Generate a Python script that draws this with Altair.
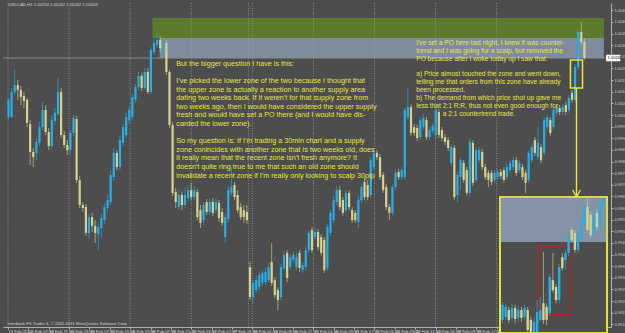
import json
import altair as alt
import pandas as pd

# ---------------- data: main chart candles, pips relative to 1.0000 ----------------
open_pips = [-0.9, -0.9, 9.9, 12.9, 10.8, 8.2, 6.5, -3.9, -15.9, -16.3, -12.0, -5.2, 2.2, -7.3, -13.3, -2.6, 0.4, 9.9, -8.6, -12.9,
             -15.1, -7.7, -1.7, -28.0, -38.7, -39.6, -50.7, -43.9, -47.7, -51.2, -48.6, -45.2, -40.0, -37.4, -26.7, -16.3, -22.4, -12.0, -8.6, -2.2,
             -0.9, 6.5, 12.0, 16.8, 11.6, 18.5, 9.9, 27.1, 30.1, 32.3, 28.0, 31.0, 18.5, -4.3, -33.1, -39.6, -34.4, -38.7, -35.7, -32.3,
             -35.3, -33.1, -40.9, -45.2, -37.4, -41.7, -37.4, -40.9, -37.8, -41.7, -52.5, -44.7, -33.5, -30.1, -34.4, -39.6, -40.9, -41.7,
             -65.4, -78.3, -75.3, -74.0, -72.2, -71.8, -71.0, -63.2, -71.0, -75.3, -78.3, -65.8, -59.3, -65.4, -62.4, -65.4, -59.3, -66.7,
             -65.4, -58.1, -49.5, -52.5, -50.3, -52.5, -53.8, -65.8, -50.7, -45.2, -37.4, -32.3, -36.6, -40.9, -33.5, -40.9, -42.1, -46.0,
             -36.6, -28.8, -30.1, -34.4, -22.4, -16.3, -18.1, -25.8, -31.0, -39.6, -42.1, -31.0, -24.5, -26.7, -26.7, -0.9, 3.4, -5.2,
             -5.6, -9.5, -5.2, -2.2, -9.5, -6.9, -8.6, 1.3, -6.5, -9.5, -10.8, -20.6, -14.2, -34.4, -26.7, -20.6, -23.7, -33.5, -12.0,
             -27.9, -19.4, -15.9, -22.4, -24.9, -24.9, -27.9, -26.7, -24.5, -23.7, -26.7, -23.7, -22.4, -19.4, -23.7, -22.4, -24.9, -27.9,
             -19.4, -10.8, -18.1, -13.8, -16.3, -5.2, -2.2, -5.2, 0.9, 3.0, 1.3, 4.3, 2.2, 9.5, 6.5, 20.6, 35.7, 31.4]
close_pips = [6.5, 9.9, 12.9, 10.8, 7.7, 6.0, -3.4, -15.9, -18.1, -11.6, -5.2, 2.2, -7.3, -13.3, -2.2, 0.9, 9.9, -8.6, -12.9, -15.1,
              -7.7, -1.3, -28.0, -38.7, -40.0, -50.7, -43.9, -47.7, -50.7, -48.2, -44.3, -39.6, -36.6, -25.8, -16.3, -22.4, -10.8, -5.2, -0.9, 2.2,
              7.7, 12.0, 16.8, 11.6, 18.5, 9.9, 28.0, 31.0, 32.3, 28.8, 31.0, 18.5, -4.3, -33.5, -37.4, -34.4, -38.7, -34.4, -32.3, -35.3,
              -32.3, -43.9, -46.4, -38.7, -41.7, -37.4, -42.1, -37.4, -44.3, -46.4, -43.9, -32.3, -31.0, -35.3, -40.9, -43.9, -43.9, -45.2,
              -78.3, -72.2, -71.0, -68.8, -67.9, -67.5, -65.4, -72.2, -77.4, -79.6, -65.4, -60.2, -70.1, -61.1, -60.2, -61.1, -65.8, -64.5,
              -58.1, -50.7, -58.1, -50.3, -56.8, -59.3, -66.7, -48.2, -42.1, -36.6, -32.3, -39.6, -42.1, -33.5, -39.6, -45.2, -45.2, -36.6,
              -31.0, -35.3, -35.3, -19.4, -16.3, -18.1, -26.7, -32.3, -39.6, -42.1, -31.0, -24.9, -26.7, -23.7, 2.2, 3.4, -7.7, -7.7,
              -9.9, -2.2, -1.3, -9.5, -6.5, -4.7, 2.2, -8.6, -9.9, -11.6, -14.2, -13.8, -35.3, -25.8, -19.4, -27.9, -33.5, -11.6, -29.2,
              -15.1, -15.1, -22.4, -26.7, -27.9, -28.8, -24.9, -24.5, -26.2, -27.9, -22.4, -20.6, -19.4, -24.9, -20.6, -26.7, -29.2, -16.3,
              -13.8, -16.3, -12.0, -19.4, -2.2, -0.9, -7.7, 2.2, 3.4, 1.3, 3.4, 1.3, 7.3, 6.5, 20.6, 35.7, 31.4, 24.5]
high_pips = [7.3, 11.6, 19.4, 15.1, 12.5, 9.9, 7.3, -2.2, -14.2, -9.9, -3.0, 5.6, 4.3, -5.6, 0.0, 3.0, 15.9, 11.6, -6.9, -10.8,
             -6.5, 0.0, -0.4, -26.2, -37.4, -38.3, -42.6, -42.1, -45.2, -46.0, -42.6, -37.8, -34.4, -23.7, -14.2, -15.1, -9.0, -3.9, 1.3, 3.9,
             9.0, 13.3, 18.5, 18.1, 20.2, 20.2, 29.2, 33.1, 35.3, 34.0, 32.3, 32.3, 19.4, -3.0, -31.4, -32.3, -33.1, -31.4, -30.1, -29.2,
             -30.5, -31.8, -38.7, -37.4, -36.1, -36.1, -35.7, -35.7, -36.6, -40.0, -42.6, -30.5, -22.4, -28.8, -32.3, -37.8, -38.7, -38.7,
             -63.2, -71.0, -69.2, -67.5, -66.7, -65.8, -63.6, -55.0, -69.7, -74.0, -64.1, -58.5, -58.1, -59.8, -58.9, -59.3, -58.1, -63.2,
             -56.8, -49.5, -48.2, -48.6, -49.0, -51.2, -52.5, -46.9, -40.9, -34.8, -30.5, -30.5, -35.3, -32.3, -32.3, -39.6, -40.9, -34.8,
             -29.7, -27.1, -28.0, -18.1, -15.1, -15.1, -16.8, -24.5, -29.7, -38.3, -29.7, -23.7, -23.2, -22.4, 3.4, 12.0, 4.7, -3.9,
             -4.3, -0.9, 0.4, -0.9, -5.2, -3.4, 3.9, 2.6, -5.2, -8.2, -9.5, -12.5, -12.9, -24.5, -18.1, -19.4, -22.4, -9.9, -10.8,
             -13.8, -13.8, -14.6, -20.9, -23.7, -23.7, -23.7, -23.2, -23.2, -22.4, -21.1, -19.4, -18.1, -18.1, -19.4, -21.1, -23.7, -15.1,
             -12.5, -9.5, -5.2, -12.5, -0.9, 0.4, -0.9, 3.4, 4.7, 4.3, 4.7, 5.6, 8.6, 10.8, 21.9, 36.6, 40.0, 33.1]
low_pips = [-2.2, -1.3, 8.6, 6.5, 4.3, 3.0, -5.2, -21.5, -22.4, -19.4, -13.3, -6.5, -8.6, -15.1, -14.6, -4.3, -0.4, -9.9, -14.2, -17.2,
            -16.8, -9.0, -29.2, -40.0, -41.7, -52.0, -52.9, -50.3, -55.0, -58.1, -52.9, -46.9, -41.7, -38.7, -28.0, -23.7, -23.7, -13.3, -9.9, -3.4,
            -2.2, 5.2, 10.8, 10.3, 10.8, 9.0, 9.0, 25.8, 28.8, 27.1, 24.5, 17.2, -5.6, -34.8, -40.0, -40.9, -40.9, -40.0, -37.4, -36.6,
            -36.6, -45.2, -48.6, -47.3, -43.0, -43.0, -43.4, -42.1, -46.0, -47.7, -55.0, -46.4, -34.8, -36.6, -42.1, -45.2, -46.4, -46.9,
            -79.6, -80.8, -76.5, -75.3, -73.5, -73.1, -72.2, -73.5, -78.7, -83.9, -79.6, -66.7, -71.8, -66.7, -63.6, -66.7, -67.5, -67.9,
            -66.7, -59.3, -59.3, -53.8, -58.1, -60.6, -67.9, -67.1, -52.0, -46.4, -38.7, -40.9, -43.4, -42.1, -40.9, -46.4, -46.4, -48.6,
            -37.8, -36.6, -36.6, -35.7, -23.7, -19.4, -28.0, -33.5, -40.9, -45.2, -43.4, -32.3, -28.0, -28.0, -28.0, -2.2, -9.0, -9.0,
            -11.2, -10.8, -6.5, -10.8, -10.8, -8.2, -9.9, -9.9, -11.2, -12.9, -15.5, -21.9, -36.6, -37.8, -32.3, -29.2, -34.8, -34.8, -30.5,
            -29.2, -20.6, -23.7, -27.9, -31.0, -30.1, -29.2, -27.9, -27.5, -29.2, -27.9, -24.9, -23.7, -26.2, -24.9, -27.9, -33.5, -29.2,
            -20.6, -17.6, -19.4, -20.6, -17.6, -6.5, -9.0, -6.5, -0.4, 0.0, 0.0, 0.0, 0.9, 5.2, 5.2, 19.4, 30.1, 23.7]

# ---------------- data: inset (zoomed view of the last rally), pips relative to 1.0000 ----------------
in_open = [9.6, 10.2, 11.5, 10.0, 11.9, 10.0, 11.5, 10.2, 11.5, 9.6, 7.1, 7.1, 9.6, 12.8, 12.1, 10.9, 17.2,
           15.9, 13.4, 21.6, 21.1, 22.4, 26.8, 26.2, 23.0, 25.5, 28.1, 31.2, 29.7, 26.2, 30.0, 27.4, 31.6]
in_close = [12.5, 12.1, 9.6, 11.9, 9.8, 11.5, 10.0, 11.9, 7.7, 7.1, 9.2, 11.1, 11.5, 9.6, 9.6, 17.8, 15.3,
            13.4, 19.7, 19.5, 22.4, 25.5, 24.9, 23.0, 25.8, 28.7, 31.2, 26.8, 25.8, 29.7, 27.4, 31.6, 32.9]
in_high = [13.0, 12.7, 12.1, 12.7, 12.5, 12.3, 12.1, 12.5, 12.1, 10.2, 10.0, 13.4, 14.0, 22.6, 12.7, 18.4, 22.4,
           16.5, 20.3, 22.4, 23.0, 26.0, 27.4, 26.8, 26.4, 29.3, 31.8, 32.9, 30.2, 30.2, 30.6, 32.1, 33.0]
in_low = [9.0, 9.6, 9.0, 9.4, 9.0, 9.4, 9.2, 9.6, 6.9, 6.5, 6.5, 6.5, 9.2, 8.8, 8.6, 10.4, 14.8,
          12.8, 12.8, 19.0, 19.2, 21.8, 24.3, 22.4, 22.4, 24.9, 27.6, 26.2, 25.3, 25.6, 26.8, 26.8, 31.0]

# zones and annotation geometry (bar index / pips)
upper_zone = (46.5, 192.3, 33.1, 41.7)     # green supply zone (two weeks old)
lower_zone = (48.8, 192.3, 24.5, 33.1)     # recent supply zone
bid_pips = 24.5
po_box = (181.5, 185.4, 11.6, 23.65)
weekend_sep = 77.5

time_labels = ["13 Feb 2012", "14 Feb 07:00", "14 Feb 15:00", "14 Feb 23:00", "15 Feb 07:00", "15 Feb 15:00",
               "15 Feb 23:00", "16 Feb 07:00", "16 Feb 15:00", "16 Feb 23:00", "17 Feb 07:00", "17 Feb 15:00",
               "20 Feb 01:00", "20 Feb 09:00", "20 Feb 17:00", "21 Feb 01:00", "21 Feb 09:00", "21 Feb 17:00",
               "22 Feb 01:00", "22 Feb 09:00", "22 Feb 17:00", "23 Feb 01:00", "23 Feb 09:00", "23 Feb 17:00",
               "24 Feb 01:00", "24 Feb 09:00", "24 Feb 17:00"]

# annotation paragraphs: (bar index, pips of first baseline, text)
para1 = ["But the bigger question I have is this:"]
para2 = ["I've picked the lower zone of the two because I thought that",
         "the upper zone is actually a reaction to another supply area",
         "dating two weeks back. If it weren't for that supply zone from",
         "two weeks ago, then I would have considered the upper supply",
         "fresh and would have set a PO there (and I would have dis-",
         "carded the lower zone)."]
para3 = ["So my question is: If I'm trading a 30min chart and a supply",
         "zone conincides with another zone that is two weeks old, does",
         "it really mean that the recent zone isn't fresh anymore? It",
         "doesn't quite ring true to me that such an old zone should",
         "invalidate a recent zone if I'm really only looking to scalp 30pip"]
para4 = ["I've set a PO here last night, I knew it was counter-",
         "trend and I was going for a scalp, but removed the",
         "PO because after I woke today up I saw that:"]
para5 = ["a) Price almost touched the zone and went down,",
         "telling me that orders from this zone have already",
         "been processed.",
         "b) The demand from which price shot up gave me",
         "less that 2:1 R:R, thus not even good enough for"]
para6 = ["a 2:1 countertrend trade."]

header_text = "USDCAD,H1  1.00253 1.00262 1.00242 1.00245"
copyright_text = "Interbank FX Trader 4, \u00a9 2001-2011 MetaQuotes Software Corp."

# ---------------- helpers ----------------
def pr(p):
    return round(1.0 + p / 10000.0, 6)

BG = "#4d4d4d"
BLUE = "#27aee6"
KHAKI = "#d6d28f"
YEL = "#e8e640"
FONT = "Liberation Sans"

n = len(open_pips)
cd = pd.DataFrame({
    "i": list(range(n)),
    "o": [pr(v) for v in open_pips],
    "c": [pr(v) for v in close_pips],
    "h": [pr(v) for v in high_pips],
    "l": [pr(v) for v in low_pips],
})
cd["top"] = cd[["o", "c"]].max(axis=1)
cd["bot"] = cd[["o", "c"]].min(axis=1)
cd["dir"] = ["up" if c >= o else "down" for o, c in zip(cd["o"], cd["c"])]

m = len(in_open)
idf = pd.DataFrame({
    "u": list(range(m)),
    "o": [pr(v) for v in in_open],
    "c": [pr(v) for v in in_close],
    "h": [pr(v) for v in in_high],
    "l": [pr(v) for v in in_low],
})
idf["top"] = idf[["o", "c"]].max(axis=1)
idf["bot"] = idf[["o", "c"]].min(axis=1)
idf["dir"] = ["up" if c >= o else "down" for o, c in zip(idf["o"], idf["c"])]

COLOR = alt.Color("dir:N", scale=alt.Scale(domain=["up", "down"], range=[BLUE, KHAKI]), legend=None)

tick_vals = [round(6.576 * k - 0.16, 3) for k in range(len(time_labels))]
grid_vals = [tick_vals[k] for k in range(0, len(tick_vals), 3)] + [weekend_sep]
price_ticks = [round(0.9910 + 0.0005 * k, 4) for k in range(28)]

label_expr = f"{json.dumps(time_labels)}[indexof({json.dumps(tick_vals)}, datum.value)]"

XS = alt.Scale(domain=[-0.16, 192.98], nice=False, zero=False)
YS = alt.Scale(domain=[0.990884, 1.004816], nice=False, zero=False)
XAX = alt.Axis(values=tick_vals, labelExpr=label_expr, labelAlign="left", labelFontSize=4.2, labelColor="#d0d0d0",
               labelFont=FONT, labelPadding=0.5, tickSize=2, tickColor="#b0b0b0", domainColor="#b0b0b0",
               grid=False, title=None, labelOverlap=False, labelFlush=False, labelBound=False, zindex=0)
YAX = alt.Axis(orient="right", values=price_ticks, format=".5f", labelFontSize=4.0, labelColor="#d0d0d0",
               labelFont=FONT, labelPadding=1, tickSize=2, tickColor="#b0b0b0", domainColor="#b0b0b0",
               grid=False, title=None, labelOverlap=False, labelFlush=False, labelBound=False, zindex=0)


def X(f):
    return alt.X(f, type="quantitative", scale=XS, axis=XAX)


def Y(f):
    return alt.Y(f, type="quantitative", scale=YS, axis=YAX)


# zones
zones = pd.DataFrame({
    "x": [upper_zone[0], lower_zone[0]], "x2": [upper_zone[1], lower_zone[1]],
    "y": [pr(upper_zone[2]), pr(lower_zone[2])], "y2": [pr(upper_zone[3]), pr(lower_zone[3])],
    "col": ["#5b7a2c", "#7e8c9e"],
})
zone_layer = alt.Chart(zones).mark_rect().encode(
    x=X("x"), x2="x2", y=Y("y"), y2="y2", color=alt.Color("col:N", scale=None))

grid_layer = alt.Chart(pd.DataFrame({"g": grid_vals})).mark_rule(
    color="#9a9a9a", strokeDash=[1, 1.5], strokeWidth=0.8).encode(x=X("g"))

bid_layer = alt.Chart(pd.DataFrame({"b": [pr(bid_pips)]})).mark_rule(
    color="#8e8e8e", strokeWidth=0.9).encode(y=Y("b"))

wick_layer = alt.Chart(cd).mark_rule(strokeWidth=0.9, opacity=0.7).encode(
    x=X("i"), y=Y("l"), y2="h", color=COLOR)
body_layer = alt.Chart(cd).mark_bar(size=2.2).encode(
    x=X("i"), y=Y("bot"), y2="top", color=COLOR)

pobox = pd.DataFrame({"x": [po_box[0]], "x2": [po_box[1]], "y": [pr(po_box[2])], "y2": [pr(po_box[3])]})
pobox_layer = alt.Chart(pobox).mark_rect(fillOpacity=0, stroke=YEL, strokeWidth=1.5).encode(
    x=X("x"), x2="x2", y=Y("y"), y2="y2")

arrow = pd.DataFrame({
    "x": [183.45, 182.2, 184.7], "x2": [183.45, 183.45, 183.45],
    "y": [pr(11.6), pr(-32.25), pr(-32.25)], "y2": [pr(-35.26), pr(-35.26), pr(-35.26)],
})
arrow_layer = alt.Chart(arrow).mark_rule(color=YEL, strokeWidth=1.4).encode(
    x=X("x"), x2="x2", y=Y("y"), y2="y2")

big_paras = pd.DataFrame({
    "x": [54.2, 54.2, 54.2],
    "y": [pr(21.2), pr(13.76), pr(-12.13)],
    "t": ["\n".join(para1), "\n".join(para2), "\n".join(para3)],
})
t1 = alt.Chart(big_paras).mark_text(
    align="left", baseline="alphabetic", font=FONT, fontSize=7.2, lineHeight=8.6, lineBreak="\n", color=YEL
).encode(x=X("x"), y=Y("y"), text="t:N")

small_paras = pd.DataFrame({
    "x": [131.7, 131.7, 140.25],
    "y": [pr(30.1), pr(16.6), pr(-0.28)],
    "t": ["\n".join(para4), "\n".join(para5), "\n".join(para6)],
})
t2 = alt.Chart(small_paras).mark_text(
    align="left", baseline="alphabetic", font=FONT, fontSize=6.6, lineHeight=7.85, lineBreak="\n", color=YEL
).encode(x=X("x"), y=Y("y"), text="t:N")

small = pd.DataFrame({"x": [-0.05, -0.3], "y": [pr(47.0), pr(-90.3)], "t": [header_text, copyright_text]})
small_layer = alt.Chart(small).mark_text(
    align="left", baseline="alphabetic", font=FONT, fontSize=4.2, color="#d4d4d4"
).encode(x=X("x"), y=Y("y"), text="t:N")

bidbox = pd.DataFrame({"x": [193.0], "x2": [197.6], "y": [pr(bid_pips - 1.4)], "y2": [pr(bid_pips + 1.4)]})
bidbox_layer = alt.Chart(bidbox).mark_rect(color="#ffffff").encode(x=X("x"), x2="x2", y=Y("y"), y2="y2")
bidtxt_layer = alt.Chart(pd.DataFrame({"x": [193.5], "y": [pr(bid_pips)], "t": ["1.00245"]})).mark_text(
    align="left", baseline="middle", font=FONT, fontSize=4.0, color="#000000"
).encode(x=X("x"), y=Y("y"), text="t:N")

main = alt.layer(zone_layer, grid_layer, bid_layer, wick_layer, body_layer, pobox_layer, arrow_layer,
                 t1, t2, small_layer, bidbox_layer, bidtxt_layer)

# ---------------- inset ----------------
IXS = alt.Scale(domain=[-0.8, 33.2], range=[492, 609], nice=False, zero=False)
IYS = alt.Scale(domain=[pr(7.1), pr(33.1)], range=[330, 194], nice=False, zero=False)


def IX(f):
    return alt.X(f, type="quantitative", scale=IXS, axis=None)


def IY(f):
    return alt.Y(f, type="quantitative", scale=IYS, axis=None)


ibox = pd.DataFrame({"x": [-0.8], "x2": [33.2], "y": [pr(7.1)], "y2": [pr(33.1)]})
ibox_layer = alt.Chart(ibox).mark_rect(fill=BG, stroke=YEL, strokeWidth=1.6).encode(
    x=IX("x"), x2="x2", y=IY("y"), y2="y2")
izone = pd.DataFrame({"x": [-0.8], "x2": [33.2], "y": [pr(24.5)], "y2": [pr(33.1)]})
izone_layer = alt.Chart(izone).mark_rect(color="#8493a6").encode(x=IX("x"), x2="x2", y=IY("y"), y2="y2")
ired = pd.DataFrame({"x": [11.4], "x2": [21.6], "y": [pr(10.6)], "y2": [pr(23.7)]})
ired_layer = alt.Chart(ired).mark_rect(fillOpacity=0, stroke="#b3261e", strokeWidth=1.2).encode(
    x=IX("x"), x2="x2", y=IY("y"), y2="y2")
iwick = alt.Chart(idf).mark_rule(strokeWidth=0.9, opacity=0.7).encode(x=IX("u"), y=IY("l"), y2="h", color=COLOR)
ibody = alt.Chart(idf).mark_bar(size=2.4).encode(x=IX("u"), y=IY("bot"), y2="top", color=COLOR)
iborder = alt.Chart(ibox).mark_rect(fillOpacity=0, stroke=YEL, strokeWidth=1.6).encode(
    x=IX("x"), x2="x2", y=IY("y"), y2="y2")

inset = alt.layer(ibox_layer, izone_layer, ired_layer, iwick, ibody, iborder)

chart = alt.layer(main, inset).resolve_scale(x="independent", y="independent").properties(
    width=608, height=324, background=BG,
    padding={"left": 3, "top": 3, "right": 14, "bottom": 6}, autosize="none"
).configure_view(stroke=None)

chart.save("out.html", embed_options={"renderer": "svg", "actions": False})
